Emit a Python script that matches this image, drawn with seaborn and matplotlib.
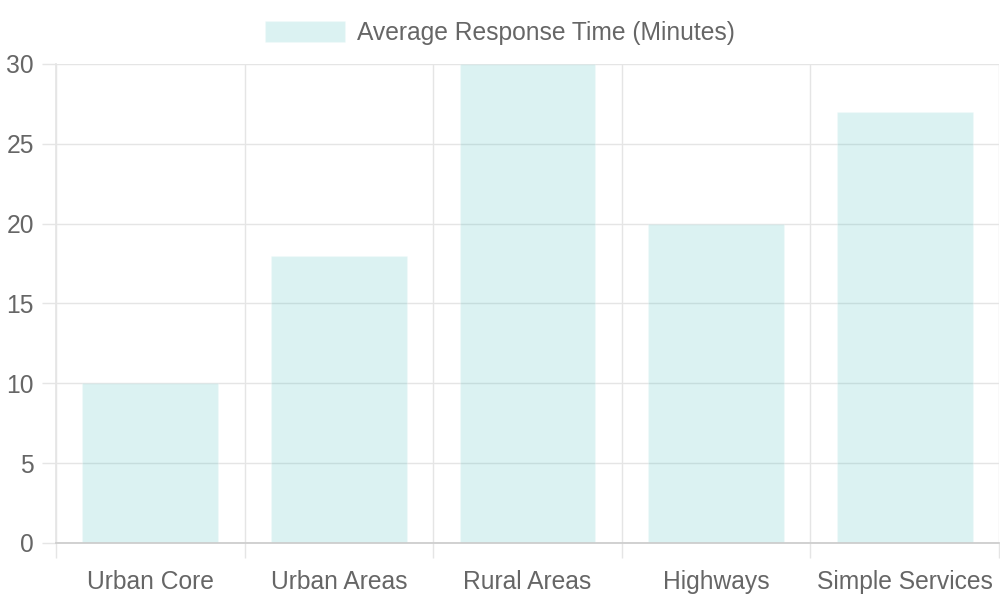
import matplotlib
matplotlib.use('Agg')
import matplotlib.pyplot as plt
import seaborn as sns
import pandas as pd

# Chart data
regions = ['Urban Core', 'Urban Areas', 'Rural Areas', 'Highways', 'Simple Services']
response_minutes = [10, 18, 30, 20, 27]
series_label = 'Average Response Time (Minutes)'

df = pd.DataFrame({'Region': regions, 'Minutes': response_minutes})

sns.set_theme(style='white')
plt.rcParams['font.family'] = ['Liberation Sans', 'DejaVu Sans']

text_color = '#666666'
grid_color = '#e5e5e5'
fs = 17.7

fig = plt.figure(figsize=(10, 6), dpi=100)
ax = fig.add_axes([0.056, 0.095, 0.943, 0.7985])

sns.barplot(data=df, x='Region', y='Minutes', ax=ax, width=0.72,
            color=(75 / 255, 192 / 255, 192 / 255), alpha=0.2,
            saturation=1, label=series_label)

ax.set_xlim(-0.5, len(regions) - 0.5)
ax.set_ylim(0, 30)
ax.set_yticks(range(0, 31, 5))
ax.set_xlabel('')
ax.set_ylabel('')

# category boundaries as minor ticks for grid
ax.set_xticks([i - 0.5 for i in range(len(regions) + 1)], minor=True)
ax.tick_params(axis='x', which='major', length=0, pad=19.5,
               labelsize=fs, labelcolor=text_color)
ax.tick_params(axis='x', which='minor', length=11, width=1,
               color=grid_color, bottom=True)
ax.tick_params(axis='y', which='major', length=10, width=1,
               color=grid_color, pad=6, labelsize=fs,
               labelcolor=text_color, left=True)

ax.set_axisbelow(True)
ax.grid(axis='y', which='major', color=grid_color, linewidth=1)
ax.grid(axis='x', which='minor', color=grid_color, linewidth=1)
ax.grid(axis='x', which='major', visible=False)

for side in ['top', 'right']:
    ax.spines[side].set_visible(False)
ax.spines['left'].set_color(grid_color)
ax.spines['bottom'].set_color('#cccccc')

handles, labels = ax.get_legend_handles_labels()
if ax.get_legend() is not None:
    ax.get_legend().remove()
fig.legend(handles, labels, loc='center', bbox_to_anchor=(0.5, 0.945),
           frameon=False, fontsize=fs, labelcolor=text_color,
           handlelength=3.25, handleheight=0.95, handletextpad=0.5)

fig.savefig('out.png', dpi=100)
